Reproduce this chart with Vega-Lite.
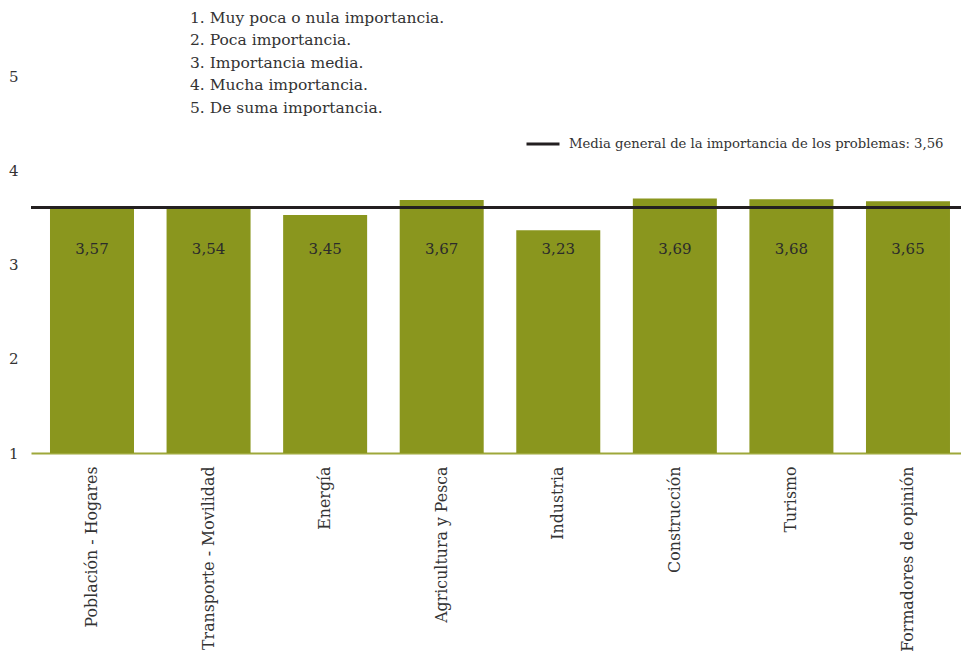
{
  "$schema": "https://vega.github.io/schema/vega-lite/v6.json",
  "width": 930,
  "height": 377,
  "autosize": {"type": "none"},
  "padding": {"left": 31, "top": 76, "right": 0, "bottom": 198},
  "background": "white",
  "title": {
    "text": ["1. Muy poca o nula importancia.", "2. Poca importancia.", "3. Importancia media.", "4. Mucha importancia.", "5. De suma importancia."],
    "anchor": "start",
    "frame": "group",
    "dx": 159,
    "offset": -59,
    "baseline": "alphabetic",
    "lineHeight": 22.5,
    "font": "DejaVu Serif",
    "fontSize": 15.5,
    "fontWeight": "normal",
    "color": "#333333"
  },
  "config": {
    "view": {"stroke": null},
    "locale": {"number": {"decimal": ",", "thousands": ".", "grouping": [3], "currency": ["", " €"]}},
    "font": "DejaVu Serif"
  },
  "data": {
    "values": [
      {"sector": "Población - Hogares", "valor": 3.57},
      {"sector": "Transporte - Movilidad", "valor": 3.54},
      {"sector": "Energía", "valor": 3.45},
      {"sector": "Agricultura y Pesca", "valor": 3.67},
      {"sector": "Industria", "valor": 3.23},
      {"sector": "Construcción", "valor": 3.69},
      {"sector": "Turismo", "valor": 3.68},
      {"sector": "Formadores de opinión", "valor": 3.65}
    ]
  },
  "layer": [
    {
      "layer": [
        {
          "mark": {"type": "bar", "color": "#8a961e"},
          "encoding": {
            "x": {
              "field": "sector", "type": "nominal", "sort": null,
              "scale": {"paddingInner": 0.2794, "paddingOuter": 0.1287, "align": 0.633},
              "axis": {
                "title": null, "labelAngle": -90, "ticks": false, "domain": true,
                "domainColor": "#9ea83a", "domainWidth": 2, "labelPadding": 13,
                "labelFont": "DejaVu Serif", "labelFontSize": 15.8, "labelColor": "#333333",
                "labelLimit": 300
              }
            },
            "y": {
              "field": "valor", "type": "quantitative",
              "scale": {"domain": [0, 5.467], "nice": false, "zero": true},
              "axis": null
            }
          }
        },
        {
          "mark": {"type": "text", "font": "DejaVu Serif", "fontSize": 15, "color": "#2b2b2b", "baseline": "middle", "dy": 3},
          "encoding": {
            "x": {"field": "sector", "type": "nominal", "sort": null},
            "y": {"datum": 3, "type": "quantitative"},
            "text": {"field": "valor", "type": "quantitative", "format": ".2f"}
          }
        },
        {
          "data": {"values": [{"media": 3.56}]},
          "mark": {"type": "rule", "strokeWidth": 3},
          "encoding": {
            "y": {"field": "media", "type": "quantitative"},
            "stroke": {
              "datum": "Media general de la importancia de los problemas: 3,56",
              "type": "nominal",
              "scale": {"range": ["#231f20"]},
              "legend": {
                "title": null, "orient": "none", "legendX": 494, "legendY": 50,
                "symbolType": "stroke", "symbolSize": 1089, "symbolStrokeWidth": 3,
                "labelFont": "DejaVu Serif", "labelFontSize": 13.2, "labelColor": "#333333",
                "labelOffset": 8, "labelLimit": 500, "padding": 0
              }
            }
          }
        }
      ]
    },
    {
      "mark": {"type": "point", "opacity": 0},
      "encoding": {
        "y": {
          "datum": 1, "type": "quantitative",
          "scale": {"domain": [1, 5], "nice": false, "zero": false},
          "axis": {
            "orient": "left", "values": [1, 2, 3, 4, 5], "title": null,
            "domain": false, "ticks": false, "grid": false, "labelPadding": 13,
            "labelFont": "DejaVu Serif", "labelFontSize": 15, "labelColor": "#333333"
          }
        }
      }
    }
  ],
  "resolve": {"scale": {"y": "independent"}, "axis": {"y": "independent"}}
}
